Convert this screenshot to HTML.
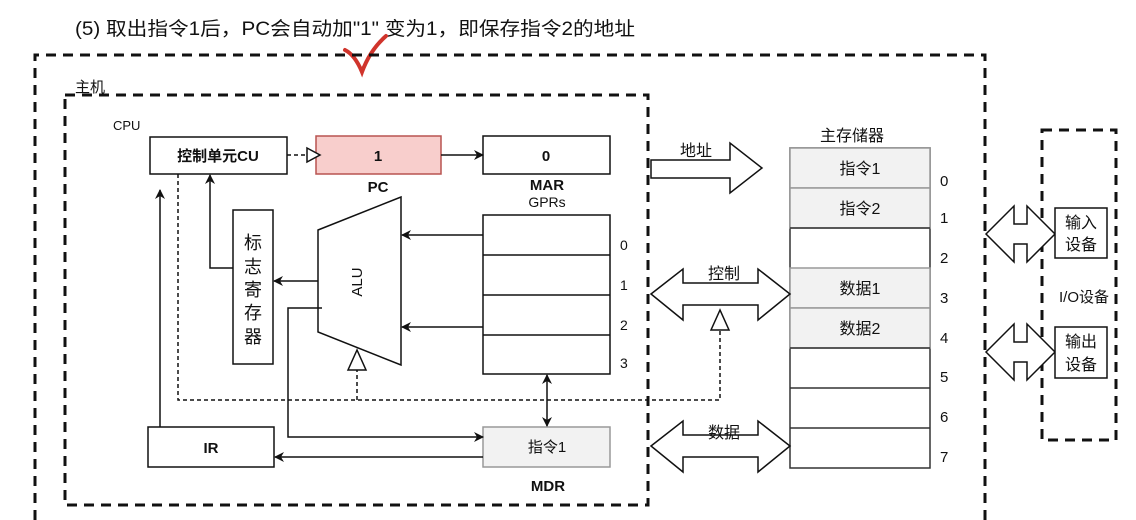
<!DOCTYPE html>
<html><head><meta charset="utf-8"><style>
html,body{margin:0;padding:0;background:#fff;}
svg{display:block;}
text{font-family:"Liberation Sans","Noto Sans CJK SC",sans-serif;fill:#111;}
</style></head><body>
<svg width="1136" height="520" viewBox="0 0 1136 520" xmlns="http://www.w3.org/2000/svg">
<defs>
<marker id="a" markerWidth="10" markerHeight="10" refX="9" refY="5" orient="auto" markerUnits="userSpaceOnUse"><path d="M0,0 L10,5 L0,10 L3,5 Z" fill="#111"/></marker>
<marker id="b" markerWidth="10" markerHeight="10" refX="1" refY="5" orient="auto" markerUnits="userSpaceOnUse"><path d="M10,0 L0,5 L10,10 L7,5 Z" fill="#111"/></marker>
</defs>
<text x="75" y="35" font-size="19" textLength="560" lengthAdjust="spacingAndGlyphs">(5) 取出指令1后，PC会自动加"1"  变为1，即保存指令2的地址</text>
<path d="M345,50 Q355,55 362,72 Q370,50 386,36" fill="none" stroke="#d0342c" stroke-width="4" stroke-linecap="round"/>
<g fill="none" stroke="#111" stroke-width="3" stroke-dasharray="10,7">
<path d="M35,520 V55 H985 V520"/>
<rect x="65" y="95" width="583" height="410"/>
<rect x="1042" y="130" width="74" height="310"/>
</g>
<text x="75" y="92" font-size="15">主机</text>
<text x="113" y="130" font-size="13">CPU</text>
<g stroke="#111" stroke-width="1.5" fill="#fff">
<rect x="150" y="137" width="137" height="37"/>
<rect x="316" y="136" width="125" height="38" fill="#f8cecc" stroke="#b85450"/>
<rect x="483" y="136" width="127" height="38"/>
<rect x="483" y="215" width="127" height="159"/>
<path d="M483,255 H610 M483,295 H610 M483,335 H610" fill="none"/>
<path d="M318,230 L401,197 L401,365 L318,332 Z"/>
<rect x="233" y="210" width="40" height="154"/>
<rect x="148" y="427" width="126" height="40"/>
<rect x="483" y="427" width="127" height="40" fill="#f2f2f2" stroke="#999"/>
<path d="M307,148 L320,155 L307,162 Z"/>
<path d="M357,350 L348,370 L366,370 Z"/>
<path d="M720,310 L711,330 L729,330 Z"/>
</g>
<g stroke="#111" stroke-width="1.5" fill="none">
<path d="M287,155 H307" stroke-dasharray="4,3"/>
<path d="M178,174 V400 H720 V330 M357,400 V370" stroke-dasharray="4,3"/>
<path d="M441,155 H483" marker-end="url(#a)"/>
<path d="M483,235 H402" marker-end="url(#a)"/>
<path d="M483,327 H402" marker-end="url(#a)"/>
<path d="M318,281 H274" marker-end="url(#a)"/>
<path d="M233,268 H210 V175" marker-end="url(#a)"/>
<path d="M160,427 V190" marker-end="url(#a)"/>
<path d="M322,308 H288 V437 H483" marker-end="url(#a)"/>
<path d="M483,457 H275" marker-end="url(#a)"/>
<path d="M547,375 V426" marker-start="url(#b)" marker-end="url(#a)"/>
</g>
<text x="218" y="161" font-size="15" font-weight="bold" text-anchor="middle">控制单元CU</text>
<text x="378" y="161" font-size="15" font-weight="bold" text-anchor="middle">1</text>
<text x="378" y="192" font-size="15" font-weight="bold" text-anchor="middle">PC</text>
<text x="546" y="161" font-size="15" font-weight="bold" text-anchor="middle">0</text>
<text x="547" y="190" font-size="15" font-weight="bold" text-anchor="middle">MAR</text>
<text x="547" y="207" font-size="14" text-anchor="middle">GPRs</text>
<text x="211" y="453" font-size="15" font-weight="bold" text-anchor="middle">IR</text>
<text x="547" y="452" font-size="15" text-anchor="middle" fill="#444">指令1</text>
<text x="548" y="491" font-size="15" font-weight="bold" text-anchor="middle">MDR</text>
<text transform="translate(362,282) rotate(-90)" font-size="15" text-anchor="middle">ALU</text>
<g font-size="18" text-anchor="middle"><text x="253" y="249">标</text><text x="253" y="273">志</text><text x="253" y="296">寄</text><text x="253" y="319">存</text><text x="253" y="343">器</text></g>
<g font-size="14"><text x="620" y="250">0</text><text x="620" y="290">1</text><text x="620" y="330">2</text><text x="620" y="368">3</text></g>
<g stroke="#333" stroke-width="1.5">
<rect x="790" y="148" width="140" height="320" fill="#fff"/>
<rect x="790" y="148" width="140" height="40" fill="#f2f2f2" stroke="#999"/>
<rect x="790" y="188" width="140" height="40" fill="#f2f2f2" stroke="#999"/>
<rect x="790" y="268" width="140" height="40" fill="#f2f2f2" stroke="#999"/>
<rect x="790" y="308" width="140" height="40" fill="#f2f2f2" stroke="#999"/>
<path d="M790,228 H930 M790,348 H930 M790,388 H930 M790,428 H930"/>
</g>
<text x="820" y="141" font-size="16">主存储器</text>
<g font-size="16" text-anchor="middle"><text x="860" y="174">指令1</text><text x="860" y="214">指令2</text><text x="860" y="294">数据1</text><text x="860" y="334">数据2</text></g>
<g font-size="15"><text x="940" y="186">0</text><text x="940" y="223">1</text><text x="940" y="263">2</text><text x="940" y="303">3</text><text x="940" y="343">4</text><text x="940" y="382">5</text><text x="940" y="422">6</text><text x="940" y="462">7</text></g>
<g fill="#fff" stroke="#111" stroke-width="1.5">
<path d="M651,160 H730 V143 L762,168 L730,193 V178 H651 Z"/>
<path d="M651,294 L683,269 V283 H758 V269 L790,294 L758,320 V305 H683 V320 Z"/>
<path d="M651,446 L683,421 V435 H758 V421 L790,446 L758,472 V457 H683 V472 Z"/>
<path d="M986,234 L1014,206 V224 L1027,224 V206 L1055,234 L1027,262 V244 H1014 V262 Z"/>
<path d="M986,352 L1014,324 V342 L1027,342 V324 L1055,352 L1027,380 V362 H1014 V380 Z"/>
<rect x="1055" y="208" width="52" height="50"/>
<rect x="1055" y="327" width="52" height="51"/>
</g>
<text x="680" y="156" font-size="16">地址</text>
<text x="708" y="279" font-size="16">控制</text>
<text x="708" y="438" font-size="16">数据</text>
<g font-size="16" text-anchor="middle"><text x="1081" y="228">输入</text><text x="1081" y="250">设备</text><text x="1081" y="347">输出</text><text x="1081" y="370">设备</text></g>
<text x="1084" y="302" font-size="15" text-anchor="middle">I/O设备</text>
</svg>
</body></html>
